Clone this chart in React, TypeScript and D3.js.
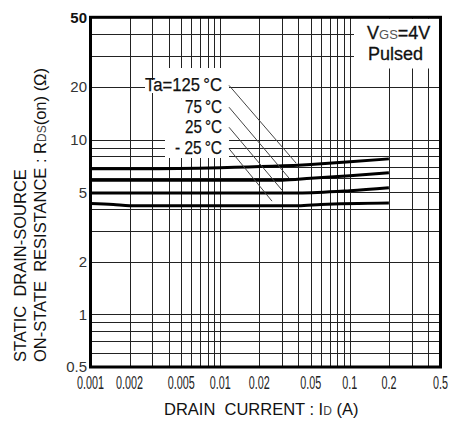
import { useEffect } from 'react'
import * as d3 from 'd3'

// drain current (A) vs on-state resistance (ohm)
const curve125 = [[0.001, 6.8], [0.0025, 6.8], [0.01, 6.9], [0.05, 7.2], [0.1, 7.45], [0.2, 7.75]]
const curve75 = [[0.001, 5.85], [0.03, 5.85], [0.05, 6.0], [0.1, 6.2], [0.2, 6.45]]
const curve25 = [[0.001, 4.95], [0.04, 4.95], [0.1, 5.1], [0.2, 5.3]]
const curveM25 = [[0.001, 4.3], [0.0015, 4.25], [0.002, 4.18], [0.04, 4.18], [0.06, 4.25], [0.2, 4.33]]
const curves = [curve125, curve75, curve25, curveM25]

const tempLabels = ['Ta=125\u2009°C', '75\u2009°C', '25\u2009°C', '- 25\u2009°C']
const tempLabelWidths = [77, 37, 37, 47]
// leader lines: [x, y] from label to curve
const leaderStart = [[0.0117, 20.4], [0.0117, 15.3], [0.0117, 11.75], [0.0117, 8.86]]
const leaderEnd = [[0.0385, 7.33], [0.034, 6.01], [0.03, 5.13], [0.0251, 4.44]]

const xTickLabels = [0.001, 0.002, 0.005, 0.01, 0.02, 0.05, 0.1, 0.2, 0.5]
const yTickLabels = [0.5, 1, 2, 5, 10, 20, 50]

const FONT = 'Liberation Sans, Arial, sans-serif'

export default function App() {
  useEffect(() => {
    document.body.style.margin = '0'
  }, [])

  const left = 90.5
  const right = 440.5
  const top = 17.3
  const bottom = 367

  const x = d3.scaleLog().domain([0.001, 0.5]).range([left, right])
  const y = d3.scaleLog().domain([0.5, 50]).range([bottom, top])

  const line = d3.line<number[]>()
    .x(d => x(d[0]))
    .y(d => y(d[1]))
    .curve(d3.curveMonotoneX)

  const xGrid = x.ticks()
  const yGrid = y.ticks()

  return (
    <svg width={449} height={421} style={{ position: 'absolute', left: 0, top: 0, background: '#fff' }}
      fontFamily={FONT}>
      <rect x={0} y={0} width={449} height={421} fill="#fff" />

      {/* grid */}
      <g stroke="#222" strokeWidth={1}>
        {xGrid.map(v => (
          <line key={'x' + v} x1={Math.round(x(v)) + 0.5} x2={Math.round(x(v)) + 0.5} y1={top} y2={bottom} />
        ))}
        {yGrid.map(v => (
          <line key={'y' + v} x1={left} x2={right} y1={Math.round(y(v)) + 0.5} y2={Math.round(y(v)) + 0.5} />
        ))}
      </g>

      {/* white backgrounds behind labels */}
      <rect x={165} y={68} width={x(0.0117) - 165} height={90} fill="#fff" />
      <rect x={145} y={80} width={20} height={13} fill="#fff" />
      <rect x={354} y={top + 1.5} width={right - 354 - 1.5} height={67 - top} fill="#fff" />

      {/* curves */}
      <g fill="none" stroke="#000" strokeWidth={3}>
        {curves.map((c, i) => <path key={i} d={line(c) || ''} />)}
      </g>

      {/* leaders + labels */}
      <g stroke="#444" strokeWidth={1}>
        {leaderStart.map((s, i) => (
          <line key={i} x1={x(s[0])} y1={y(s[1])} x2={x(leaderEnd[i][0])} y2={y(leaderEnd[i][1])} />
        ))}
      </g>
      {tempLabels.map((t, i) => (
        <text key={t} x={x(leaderStart[i][0]) - 7 - tempLabelWidths[i]} y={y(leaderStart[i][1]) + 5.5}
          fontSize={18} fill="#111" stroke="#111" strokeWidth={0.25}
          textLength={tempLabelWidths[i]} lengthAdjust="spacingAndGlyphs">
          {t}
        </text>
      ))}

      <text x={367} y={38.5} fontSize={18} fill="#111" stroke="#111" strokeWidth={0.3}>
        V<tspan fontSize={13} fill="#555" stroke="none">GS</tspan>=4V
      </text>
      <text x={368} y={60} fontSize={18} fill="#111" stroke="#111" strokeWidth={0.3}>Pulsed</text>

      {/* frame */}
      <rect x={left} y={top} width={right - left} height={bottom - top} fill="none" stroke="#000" strokeWidth={3} />

      {/* tick labels */}
      {yTickLabels.map(v => (
        <text key={'yl' + v} x={87} y={y(v)} dy="0.36em" textAnchor="end" fontSize={15}
          fontWeight={v === 50 ? 'bold' : 'normal'} fill={v === 50 ? '#111' : '#333'}>
          {v}
        </text>
      ))}
      {xTickLabels.map(v => (
        <text key={'xl' + v} textAnchor="middle" fontSize={18} fill="#222"
          transform={`translate(${x(v)},${388.5}) scale(0.6,1)`}>
          {v}
        </text>
      ))}

      {/* axis titles */}
      <text x={164} y={415} fontSize={16.5} fill="#111" style={{ whiteSpace: 'pre' }}>
        {'DRAIN  CURRENT : I'}<tspan fontSize={12} fill="#444">D</tspan>{' (A)'}
      </text>
      <text transform="translate(26,362) rotate(-90)" fontSize={16.5} fill="#111" style={{ whiteSpace: 'pre' }}>
        {'STATIC  DRAIN-SOURCE'}
      </text>
      <text transform="translate(45.5,362) rotate(-90)" fontSize={16.5} fill="#111" style={{ whiteSpace: 'pre' }}>
        {'ON-STATE  RESISTANCE : R'}<tspan fontSize={12} fill="#444">DS</tspan>{'(on) (Ω)'}
      </text>
    </svg>
  )
}
